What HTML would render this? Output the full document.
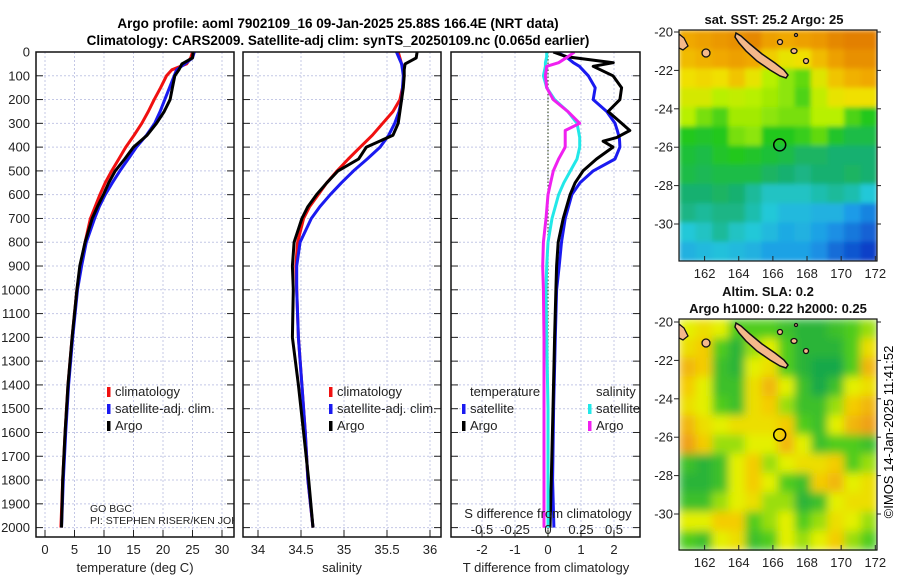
<!DOCTYPE html>
<html><head><meta charset="utf-8"><style>
body{margin:0;background:#fff;width:900px;height:580px;overflow:hidden}
svg{font-family:"Liberation Sans","DejaVu Sans",sans-serif}
</style></head><body>
<svg id="fig" width="900" height="580" viewBox="0 0 900 580" xmlns="http://www.w3.org/2000/svg">
<defs>
<clipPath id="cp1"><rect x="36" y="52" width="198" height="485"/></clipPath>
<clipPath id="cp2"><rect x="243" y="52" width="198" height="485"/></clipPath>
<clipPath id="cp3"><rect x="451" y="52" width="189" height="485"/></clipPath>
<clipPath id="cm1"><rect x="679" y="30" width="198" height="231"/></clipPath>
<clipPath id="cm2"><rect x="679" y="319" width="198" height="232"/></clipPath>
<filter id="blur1" x="0" y="0" width="1" height="1"><feGaussianBlur stdDeviation="2.5" edgeMode="duplicate"/></filter>
<filter id="blur2" x="0" y="0" width="1" height="1"><feGaussianBlur stdDeviation="4.5" edgeMode="duplicate"/></filter>
</defs>
<g font-weight="bold" font-size="13.5" text-anchor="middle">
<text x="338" y="28">Argo profile: aoml 7902109_16 09-Jan-2025 25.88S 166.4E (NRT data)</text>
<text x="338" y="45">Climatology: CARS2009. Satellite-adj clim: synTS_20250109.nc (0.065d earlier)</text>
</g>
<g id="g1"></g>
<g id="g2"></g>
<g id="g3"></g>
<g id="m1"></g>
<g id="m2"></g>
<text x="0" y="0" font-size="13" text-anchor="middle" transform="translate(893,432) rotate(-90)">©IMOS 14-Jan-2025 11:41:52</text>
</svg>
<script>
// ---------- data ----------
const depths = [0,25,50,75,100,150,200,250,300,350,400,450,500,550,600,650,700,800,900,1000,1200,1400,1600,1800,2000];
const tempClim = [25.0,24.7,24.0,21.5,20.6,19.6,18.5,17.5,16.4,15.1,13.7,12.5,11.3,10.2,9.3,8.5,7.7,6.8,6.0,5.4,4.6,3.9,3.4,3.0,2.7];
const tempSat  = [25.3,25.0,23.7,22.3,21.9,21.1,20.3,19.5,18.6,17.2,15.5,14.1,12.7,11.4,10.2,9.2,8.4,7.0,6.2,5.5,4.7,4.0,3.5,3.1,2.8];
const tempArgo = [25.1,25.0,23.2,22.7,22.0,21.6,21.2,20.2,18.9,17.3,15.0,13.5,11.9,10.8,9.9,8.9,8.0,6.8,5.9,5.4,4.6,3.9,3.4,3.0,2.8];
const salClim = [35.63,35.65,35.67,35.69,35.70,35.68,35.65,35.57,35.45,35.33,35.19,35.05,34.92,34.80,34.70,34.60,34.53,34.46,34.44,34.45,34.47,34.51,34.55,34.58,34.64];
const salSat  = [35.61,35.64,35.67,35.68,35.69,35.68,35.67,35.64,35.59,35.52,35.42,35.27,35.11,34.97,34.84,34.72,34.62,34.49,34.45,34.45,34.47,34.51,34.55,34.58,34.64];
const salArgo = [35.85,35.84,35.71,35.70,35.70,35.69,35.67,35.65,35.63,35.57,35.26,35.17,34.93,34.80,34.68,34.58,34.51,34.42,34.40,34.41,34.40,34.47,34.53,34.59,34.64];
const diffDepths = [0,20,45,60,100,150,200,250,300,330,360,375,400,450,500,550,600,700,800,900,1000,1200,1500,1800,2000];
const dTArgo = [0.16,0.57,1.98,1.37,1.97,2.23,2.18,1.82,2.23,2.48,2.08,1.67,1.97,1.47,1.06,0.82,0.67,0.46,0.31,0.26,0.24,0.20,0.15,0.10,0.06];
const dTSat  = [0.26,0.55,0.77,0.95,1.22,1.43,1.37,1.78,2.03,2.10,2.16,2.17,2.18,2.03,1.37,0.97,0.72,0.52,0.41,0.34,0.26,0.22,0.17,0.14,0.18];
const dSSat  = [-0.01,-0.01,-0.02,-0.02,-0.035,-0.01,0.05,0.15,0.22,0.23,0.24,0.24,0.24,0.22,0.17,0.12,0.08,0.03,0.0,-0.01,-0.015,-0.01,0.0,0.0,0.0];
const dSArgo = [0.20,0.15,0.08,-0.01,-0.02,-0.01,0.04,0.15,0.24,0.13,0.13,0.13,0.13,0.08,0.04,0.02,0.0,-0.015,-0.035,-0.04,-0.035,-0.03,-0.03,-0.03,-0.03];
const depthTicks = [0,100,200,300,400,500,600,700,800,900,1000,1100,1200,1300,1400,1500,1600,1700,1800,1900,2000];
const tempTicks = [0,5,10,15,20,25,30];
const salTicks = [34,34.5,35,35.5,36];
const salTickLabels = ["34","34.5","35","35.5","36"];
const dTTicks = [-2,-1,0,1,2];
const dSTicks = [-0.5,-0.25,0,0.25,0.5];
const dSTickLabels = ["-0.5","-0.25","0","0.25","0.5"];
const lonTicks = [162,164,166,168,170,172];
const latTicks = [-20,-22,-24,-26,-28,-30];
const sstGrid = [
[26.2,26.3,26.4,26.5,26.6,26.3,26.2,26.3,26.4,26.6,26.7,26.7],
[26.0,26.1,26.2,26.3,26.2,25.8,25.5,25.6,26.0,26.3,26.5,26.5],
[25.6,25.7,25.6,25.9,25.5,25.0,24.8,24.6,25.4,25.9,26.1,26.2],
[25.3,25.3,25.0,25.1,25.0,24.9,24.8,24.5,25.1,25.5,25.6,25.6],
[25.0,24.7,24.5,24.9,24.9,24.8,24.7,24.7,25.0,25.0,24.5,24.3],
[24.3,24.2,24.3,24.7,24.8,24.3,24.3,24.4,24.6,24.2,24.0,24.0],
[24.1,24.0,24.2,24.3,24.2,24.1,24.0,23.8,23.8,23.7,23.7,23.7],
[24.0,23.9,24.0,24.0,24.0,23.8,23.7,23.6,23.7,23.7,23.8,23.7],
[23.7,23.7,23.8,23.7,23.5,23.3,23.3,23.3,23.4,23.5,23.4,23.2],
[23.6,23.5,23.6,23.6,23.4,23.2,23.0,23.0,22.9,22.9,22.6,22.4],
[23.2,23.3,23.5,23.3,23.2,23.0,22.8,22.9,22.7,22.5,22.3,22.1],
[22.9,23.0,23.1,23.0,22.9,22.7,22.7,22.7,22.5,22.2,22.0,21.8]];
const slaGrid = [
[.5,.6,.5,.3,.3,.3,.2,.1,.1,.2,.3,.4],
[.6,.7,.3,.1,.4,.5,.3,.1,.1,.1,.3,.6],
[.8,.7,.2,.1,.5,.6,.3,.1,0,0,.3,.8],
[.7,.5,.2,.2,.6,.8,.5,.2,0,.2,.5,.6],
[.6,.5,.3,.2,.6,.7,.4,.2,.2,.4,.7,.8],
[.8,.6,.5,.6,.6,.6,.7,.3,.2,.5,.8,.9],
[.9,.7,.4,.4,.5,.5,.8,.5,.2,.3,.3,.2],
[.2,.1,.2,.5,.7,.4,.5,.6,.6,.7,.3,.4],
[.1,.1,.2,.5,.7,.5,.3,.2,.7,.8,.5,.6],
[.2,.2,.4,.5,.6,.4,.4,.1,.2,.5,.6,.6],
[.5,.5,.7,.7,.3,.4,.5,.3,.4,.6,.5,.4],
[.3,.2,.5,.6,.2,.3,.5,.4,.5,.7,.4,.3]];
const floatLon = 166.4, floatLat = -25.88;

// ---------- helpers ----------
const NS="http://www.w3.org/2000/svg";
function el(tag, attrs, parent){const e=document.createElementNS(NS,tag);for(const k in attrs)e.setAttribute(k,attrs[k]);parent.appendChild(e);return e;}
const yD = d => 52 + d*0.2378;
const PT=52, PB=537;
const xT = v => 45 + v*5.9;
const xS = v => 258 + (v-34)*86;
const xDT = v => 548 + v*33;
const xDS = v => 548 + v*132;

function panel(g, x0, x1, vticks, clipId){
  vticks.forEach(x=>{
    const l=el('line',{x1:x,x2:x,y1:PT,y2:PB,stroke:'#c4c8e6','stroke-width':1,'stroke-dasharray':'2,2'},g);
    
    
  });
  depthTicks.forEach(d=>{
    const l=el('line',{x1:x0,x2:x1,y1:yD(d),y2:yD(d),stroke:'#c4c8e6','stroke-width':1,'stroke-dasharray':'2,2'},g);
    
    
    const t1=el('line',{x1:x0,x2:x0+7,y1:yD(d),y2:yD(d),stroke:'#222','stroke-width':1},g);
    
    
    const t2=el('line',{x1:x1-7,x2:x1,y1:yD(d),y2:yD(d),stroke:'#222','stroke-width':1},g);
    
    
  });
  vticks.forEach(x=>{
    const t=el('line',{x1:x,x2:x,y1:PB,y2:PB-7,stroke:'#222','stroke-width':1},g);
    
    
  });
}
function frame(g,x0,x1){
  const r=el('rect',{x:x0,y:PT,width:x1-x0,height:PB-PT,fill:'none',stroke:'#111','stroke-width':1.5},g);
  
  
}
function line(g, xs, ys, fx, color, name, clip, w){
  const pts = xs.map((v,i)=>fx(v).toFixed(1)+','+yD(ys[i]).toFixed(1)).join(' ');
  const p=el('polyline',{points:pts,fill:'none',stroke:color,'stroke-width':w||3,'stroke-linejoin':'round','clip-path':'url(#'+clip+')'},g);
  
  
}
function text(g,x,y,s,opts,name){
  const t=el('text',Object.assign({x:x,y:y,'font-size':13,fill:'#222'},opts||{}),g);
  t.textContent=s;
  
  
  return t;
}
function legendEntry(g,x,y,color,label){
  const b=el('rect',{x:x,y:y-9,width:3.5,height:10,fill:color},g);
  
  
  text(g,x+8,y,label,{'font-size':13},'legend-entry');
}

// ---------- panel 1 ----------
const g1=document.getElementById('g1');
panel(g1,36,234,tempTicks.map(xT),'cp1');
line(g1,tempClim,depths,xT,'#f01010','temp-climatology-line','cp1');
line(g1,tempSat,depths,xT,'#1a1af0','temp-satellite-line','cp1');
line(g1,tempArgo,depths,xT,'#000','temp-argo-line','cp1');
frame(g1,36,234);
depthTicks.forEach(d=>text(g1,30,yD(d)+4.5,String(d),{'text-anchor':'end'},'depth-tick-label'));
tempTicks.forEach(v=>text(g1,xT(v),554,String(v),{'text-anchor':'middle'},'temp-tick-label'));
text(g1,135,572,'temperature (deg C)',{'text-anchor':'middle'},'x-axis-title-temperature');
legendEntry(g1,107,396,'#f01010','climatology');
legendEntry(g1,107,413,'#1a1af0','satellite-adj. clim.');
legendEntry(g1,107,430,'#000','Argo');
const gl=el('g',{'clip-path':'url(#cp1)'},g1);
text(gl,90,512,'GO BGC',{'font-size':10.5},'program-label');
text(gl,90,524,'PI: STEPHEN RISER/KEN JOHNSON',{'font-size':10.5},'pi-label');

// ---------- panel 2 ----------
const g2=document.getElementById('g2');
panel(g2,243,441,salTicks.map(xS),'cp2');
line(g2,salClim,depths,xS,'#f01010','sal-climatology-line','cp2');
line(g2,salSat,depths,xS,'#1a1af0','sal-satellite-line','cp2');
line(g2,salArgo,depths,xS,'#000','sal-argo-line','cp2');
frame(g2,243,441);
salTicks.forEach((v,i)=>text(g2,xS(v),554,salTickLabels[i],{'text-anchor':'middle'},'sal-tick-label'));
text(g2,342,572,'salinity',{'text-anchor':'middle'},'x-axis-title-salinity');
legendEntry(g2,329,396,'#f01010','climatology');
legendEntry(g2,329,413,'#1a1af0','satellite-adj. clim.');
legendEntry(g2,329,430,'#000','Argo');

// ---------- panel 3 ----------
const g3=document.getElementById('g3');
panel(g3,451,640,dTTicks.map(xDT),'cp3');
const z=el('line',{x1:xDT(0),x2:xDT(0),y1:PT,y2:PB,stroke:'#445533','stroke-width':1.2,'stroke-dasharray':'1.5,2'},g3);


line(g3,dTSat,diffDepths,xDT,'#1a1af0','dT-satellite-line','cp3');
line(g3,dTArgo,diffDepths,xDT,'#000','dT-argo-line','cp3');
line(g3,dSSat,diffDepths,xDS,'#22e8e8','dS-satellite-line','cp3');
line(g3,dSArgo,diffDepths,xDS,'#f020f0','dS-argo-line','cp3');
frame(g3,451,640);
dTTicks.forEach(v=>text(g3,xDT(v),554,String(v),{'text-anchor':'middle'},'dT-tick-label'));
dSTicks.forEach((v,i)=>text(g3,xDS(v),534,dSTickLabels[i],{'text-anchor':'middle'},'dS-tick-label'));
text(g3,548,518,'S difference from climatology',{'text-anchor':'middle'},'s-difference-title');
text(g3,546,572,'T difference from climatology',{'text-anchor':'middle'},'x-axis-title-t-difference');
text(g3,470,396,'temperature',{},'legend-title-temperature');
legendEntry(g3,462,413,'#1a1af0','satellite');
legendEntry(g3,462,430,'#000','Argo');
text(g3,596,396,'salinity',{},'legend-title-salinity');
legendEntry(g3,588,413,'#22e8e8','satellite');
legendEntry(g3,588,430,'#f020f0','Argo');

// ---------- maps ----------
function hex(c){return [1,3,5].map(i=>parseInt(c.substr(i,2),16));}
function cmap(stops,v){
  if(v<=stops[0][0])return stops[0][1];
  for(let i=1;i<stops.length;i++){if(v<=stops[i][0]){const a=hex(stops[i-1][1]),b=hex(stops[i][1]);const f=(v-stops[i-1][0])/(stops[i][0]-stops[i-1][0]);return 'rgb('+a.map((x,k)=>Math.round(x+(b[k]-x)*f)).join(',')+')';}}
  return stops[stops.length-1][1];
}
const sstStops=[[21.8,'#0a3fc8'],[22.6,'#1e9be8'],[23.2,'#22c8d8'],[23.7,'#19b070'],[24.3,'#22c81e'],[25.0,'#b8f000'],[25.6,'#f0e000'],[26.2,'#f0a800'],[26.8,'#e07800']];
const slaStops=[[0,'#18a848'],[0.3,'#50cc1c'],[0.5,'#e4f000'],[0.7,'#f4cc00'],[1,'#ec8a20']];
function drawMap(gid,top,latTop,grid,stops,clip,filt,title){
  const g=document.getElementById(gid);
  const lonL=160.5,lonR=172.1,left=679,right=877;
  const xL=lon=>left+(lon-lonL)*(right-left)/(lonR-lonL);
  const yL=lat=>latTop+(-20-lat)*19.2;
  const bottom=top+231;
  const outer=el('g',{'clip-path':'url(#'+clip+')'},g);
  const inner=el('g',{filter:'url(#'+filt+')'},outer);
  const rows=grid.length,cols=grid[0].length;
  const cw=(right-left)/cols,ch=(bottom-top)/rows;
  grid.forEach((row,r)=>row.forEach((v,c)=>{
    const cell=el('rect',{x:left+c*cw,y:top+r*ch,width:cw+0.6,height:ch+0.6,fill:cmap(stops,v)},inner);
    
    
  }));
  const dy=latTop-32;
  const nc=el('polygon',{points:[[736,33],[741,36],[750,44],[762,54],[775,63],[784,70],[788,75],[786,78],[780,76],[770,70],[757,61],[746,51],[739,43],[735,37]].map(p=>p[0]+','+(p[1]+dy)).join(' '),fill:'#f4b88a',stroke:'#111','stroke-width':1.5},outer);
  
  
  [[794,51+dy,3,2.5],[806,61+dy,2.5,2.5],[780,42+dy,2.5,2.5],[706,53+dy,4,4],[796,35+dy,1.5,1.5]].forEach(p=>{
    const e=el('ellipse',{cx:p[0],cy:p[1],rx:p[2],ry:p[3],fill:'#f4b88a',stroke:'#111','stroke-width':1.3},outer);
    
    
  });
  const cst=el('path',{d:'M679,'+(34+dy)+' L684,'+(38+dy)+' L688,'+(46+dy)+' L683,'+(50+dy)+' L679,'+(48+dy),fill:'#f4b88a',stroke:'#111','stroke-width':1.3},outer);
  
  
  const fc=el('circle',{cx:xL(floatLon),cy:yL(floatLat),r:6,fill:'none',stroke:'#000','stroke-width':1.5},g);
  
  
  const fr=el('rect',{x:left,y:top,width:right-left,height:bottom-top,fill:'none',stroke:'#111','stroke-width':1.2},g);
  
  
  lonTicks.forEach(v=>{
    const t=el('line',{x1:xL(v),x2:xL(v),y1:bottom,y2:bottom-5,stroke:'#222'},g);
    
    
    text(g,xL(v),bottom+17,String(v),{'text-anchor':'middle'},'lon-tick-label');
  });
  latTicks.forEach(v=>{
    const t=el('line',{x1:left-5,x2:left,y1:yL(v),y2:yL(v),stroke:'#222'},g);
    
    
    const t2=el('line',{x1:right,x2:right+4,y1:yL(v),y2:yL(v),stroke:'#222'},g);
    
    
    text(g,left-6,yL(v)+4.5,String(v),{'text-anchor':'end'},'lat-tick-label');
  });
  title.forEach(tl=>text(g,tl[0],tl[1],tl[2],{'text-anchor':'middle','font-weight':'bold','fill':'#111'},'map-title'));
}
drawMap('m1',30,32,sstGrid,sstStops,'cm1','blur1',[[774,24,'sat. SST: 25.2 Argo: 25']]);
drawMap('m2',319,322,slaGrid,slaStops,'cm2','blur2',[[768,296,'Altim. SLA: 0.2'],[778,313,'Argo h1000: 0.22 h2000: 0.25']]);
</script>
</body></html>
